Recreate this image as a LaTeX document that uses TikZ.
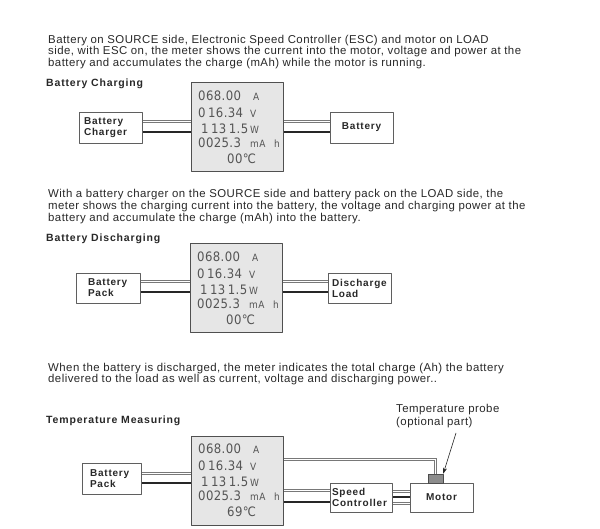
\documentclass[tikz,border=0pt]{standalone}
\usepackage{fontspec}
\setmainfont{Liberation Sans}
\newfontfamily\bodyfont[LetterSpace=4]{Liberation Sans}
\newfontfamily\headfont[LetterSpace=8]{Liberation Sans}
\newfontfamily\lcdfont[LetterSpace=3]{DejaVu Sans Condensed}
\usetikzlibrary{arrows.meta,calc,backgrounds}
\definecolor{inktext}{RGB}{40,40,40}
\definecolor{boxedge}{RGB}{95,95,95}
\definecolor{lcdfill}{RGB}{230,230,230}
\definecolor{lcdedge}{RGB}{80,80,80}
\definecolor{lcdink}{RGB}{85,85,85}
\definecolor{wiregray}{RGB}{120,120,120}

\tikzset{
  para/.style={anchor=base west,inner sep=0pt,text=inktext,
    font=\bodyfont\fontsize{11.4}{12}\selectfont},
  heading/.style={anchor=base west,inner sep=0pt,text=inktext,
    font=\headfont\bfseries\fontsize{10.5}{12}\selectfont},
  sidebox/.style={draw=boxedge,fill=white,line width=0.7pt,inner ysep=0pt,align=left,
    text=inktext,font=\headfont\bfseries\fontsize{10}{11}\selectfont},
  lcdbox/.style={draw=lcdedge,fill=lcdfill,line width=1pt,inner sep=0pt,
    minimum width=92pt,minimum height=89pt},
  lcd/.style={anchor=base west,inner sep=0pt,text=lcdink,
    font=\lcdfont\fontsize{13}{13}\selectfont},
  lcdunit/.style={anchor=base west,inner sep=0pt,text=lcdink,
    font=\lcdfont\fontsize{10}{10}\selectfont},
  wireg/.style={draw=wiregray,line width=1pt,double=white,double distance=1pt},
  wirek/.style={draw=black!85,line width=2pt},
}

\begin{document}
\begin{tikzpicture}[x=1pt,y=-1pt,line join=round]
  \begin{pgfonlayer}{background}
    \fill[white] (0,0) rectangle (600,529);
  \end{pgfonlayer}
  \useasboundingbox (0,0) rectangle (600,529);

  \node[para] (p1a) at (48,43.5) {Battery on SOURCE side, Electronic Speed Controller (ESC) and motor on LOAD};
  \node[para] (p1b) at (48,55) {side, with ESC on, the meter shows the current into the motor, voltage and power at the};
  \node[para] (p1c) at (48,66.5) {battery and accumulates the charge (mAh) while the motor is running.};
  \node[heading] (h1) at (46,87) {Battery Charging};

  \node[para] (p2a) at (48,198) {With a battery charger on the SOURCE side and battery pack on the LOAD side, the};
  \node[para] (p2b) at (48,210) {meter shows the charging current into the battery, the voltage and charging power at the};
  \node[para] (p2c) at (48,221.5) {battery and accumulate the charge (mAh) into the battery.};
  \node[heading] (h2) at (46,242) {Battery Discharging};

  \node[para] (p3a) at (48,371) {When the battery is discharged, the meter indicates the total charge (Ah) the battery};
  \node[para] (p3b) at (48,383) {delivered to the load as well as current, voltage and discharging power..};
  \node[heading] (h3) at (46,423) {Temperature Measuring};
  \node[para] (tp1) at (396,413) {Temperature probe};
  \node[para] (tp2) at (396,425) {(optional part)};

  \foreach \nm/\mx/\my/\tc in {mA/191/83/00,mB/190/244/00,mC/191/436/69} {
    \node[lcdbox] (\nm) at (\mx+46,\my+44.5) {};
    \node[lcd] (\nm-a) at (\mx+7,\my+17.5) {068.00};
    \node[lcdunit] (\nm-au) at (\mx+62,\my+17.5) {A};
    \node[lcd] (\nm-v) at (\mx+7,\my+34.5) {0\hspace{2.5pt}16.34};
    \node[lcdunit] (\nm-vu) at (\mx+59,\my+34.5) {V};
    \node[lcd] (\nm-w) at (\mx+10,\my+50.5) {1\hspace{2.5pt}13\hspace{2.5pt}1.5};
    \node[lcdunit] (\nm-wu) at (\mx+59,\my+50.5) {W};
    \node[lcd] (\nm-c) at (\mx+7,\my+64.5) {0025.3};
    \node[lcdunit] (\nm-cu) at (\mx+59,\my+64.5) {mA};
    \node[lcdunit] (\nm-hu) at (\mx+83,\my+64.5) {h};
    \node[lcd] (\nm-t) at (\mx+36,\my+80.5) {\tc℃};
  }

  \node[sidebox,text width=53pt,inner xsep=5pt,minimum height=31pt] (chg) at (110.5,127.5) {Battery\\Charger};
  \node[sidebox,text width=53pt,inner xsep=5pt,minimum height=31pt,align=center] (bat) at (361.5,127.5) {Battery};
  \node[sidebox,text width=40pt,inner xsep=12pt,minimum height=30pt] (packB) at (108,288) {Battery\\Pack};
  \node[sidebox,text width=55pt,inner xsep=4pt,minimum height=30pt] (load) at (359.5,288) {Discharge\\Load};
  \node[sidebox,text width=43pt,inner xsep=8pt,minimum height=31pt] (packC) at (111.5,478.5) {Battery\\Pack};
  \node[sidebox,text width=58pt,inner xsep=2pt,minimum height=29pt] (sc) at (361,497.5) {Speed\\Controller};
  \node[sidebox,text width=53pt,inner xsep=5pt,minimum height=29pt,align=center] (motor) at (441.5,497.5) {Motor};
  \node[draw=black!70,fill=black!45,line width=0.5pt,inner sep=0pt,minimum width=15pt,minimum height=9pt] (probe) at (435.5,478.5) {};

  \begin{pgfonlayer}{background}
    \draw[wireg] (chg.east |- 0,121.5) -- (mA.west |- 0,121.5);
    \draw[wirek] (chg.east |- 0,132) -- (mA.west |- 0,132);
    \draw[wireg] (mA.east |- 0,121.5) -- (bat.west |- 0,121.5);
    \draw[wirek] (mA.east |- 0,132) -- (bat.west |- 0,132);

    \draw[wireg] (packB.east |- 0,281.5) -- (mB.west |- 0,281.5);
    \draw[wirek] (packB.east |- 0,292) -- (mB.west |- 0,292);
    \draw[wireg] (mB.east |- 0,281.5) -- (load.west |- 0,281.5);
    \draw[wirek] (mB.east |- 0,292) -- (load.west |- 0,292);

    \draw[wireg] (packC.east |- 0,473.5) -- (mC.west |- 0,473.5);
    \draw[wirek] (packC.east |- 0,483) -- (mC.west |- 0,483);
    \draw[wireg] (mC.east |- 0,490.5) -- (sc.west |- 0,490.5);
    \draw[wirek] (mC.east |- 0,502) -- (sc.west |- 0,502);
    \draw[wireg] (mC.east |- 0,459.5) -| (probe.north);
    \draw[wireg] (sc.east |- 0,491.5) -- (motor.west |- 0,491.5);
    \draw[wirek] (sc.east |- 0,497) -- (motor.west |- 0,497);
    \draw[wireg] (sc.east |- 0,503.5) -- (motor.west |- 0,503.5);
  \end{pgfonlayer}

  \coordinate (tail) at (456,433);
  \draw[black!85,line width=0.6pt,-{Stealth[length=6pt,width=4pt]}] (tail) -- (probe.north east);
\end{tikzpicture}
\end{document}
